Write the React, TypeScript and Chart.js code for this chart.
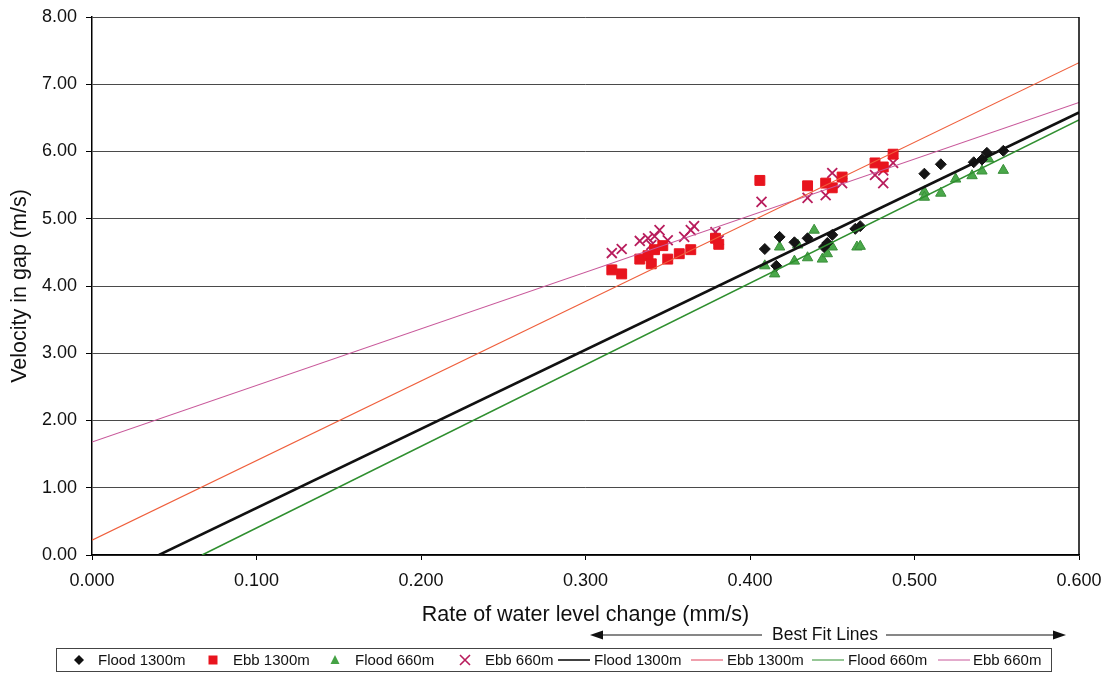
import React, { useEffect, useRef } from 'react';
import Chart from 'chart.js/auto';

// ---- data ----
const flood1300X = [0.409, 0.416, 0.418, 0.427, 0.435, 0.445, 0.447, 0.450, 0.464, 0.467, 0.506, 0.516, 0.536, 0.541, 0.544, 0.554];
const flood1300Y = [4.55, 4.30, 4.73, 4.65, 4.71, 4.58, 4.64, 4.76, 4.85, 4.89, 5.67, 5.81, 5.84, 5.88, 5.98, 6.01];

const ebb1300X = [0.316, 0.322, 0.333, 0.338, 0.340, 0.342, 0.347, 0.350, 0.357, 0.364, 0.379, 0.381, 0.406, 0.435, 0.446, 0.450, 0.456, 0.476, 0.481, 0.487];
const ebb1300Y = [4.24, 4.18, 4.40, 4.45, 4.33, 4.54, 4.60, 4.40, 4.48, 4.54, 4.71, 4.62, 5.57, 5.49, 5.53, 5.46, 5.62, 5.83, 5.77, 5.96];

const flood660X = [0.409, 0.415, 0.418, 0.427, 0.429, 0.435, 0.439, 0.444, 0.447, 0.450, 0.465, 0.467, 0.506, 0.506, 0.516, 0.525, 0.535, 0.541, 0.545, 0.554];
const flood660Y = [4.30, 4.18, 4.58, 4.37, 4.61, 4.42, 4.83, 4.40, 4.48, 4.58, 4.58, 4.59, 5.40, 5.32, 5.38, 5.59, 5.64, 5.71, 5.89, 5.72];

const ebb660X = [0.316, 0.322, 0.333, 0.338, 0.340, 0.342, 0.345, 0.350, 0.360, 0.364, 0.366, 0.379, 0.381, 0.407, 0.435, 0.446, 0.450, 0.456, 0.476, 0.481, 0.481, 0.487];
const ebb660Y = [4.49, 4.55, 4.67, 4.71, 4.61, 4.74, 4.83, 4.68, 4.73, 4.83, 4.89, 4.80, 4.68, 5.25, 5.31, 5.35, 5.68, 5.53, 5.65, 5.72, 5.53, 5.83];

// best fit lines: [x, y] end points
const fitFlood1300 = [[0.0407, 0], [0.6, 6.58]];
const fitEbb1300 = [[0, 0.22], [0.6, 7.32]];
const fitFlood660 = [[0.0669, 0], [0.6, 6.47]];
const fitEbb660 = [[0, 1.68], [0.6, 6.73]];

const xTicks = [0, 0.1, 0.2, 0.3, 0.4, 0.5, 0.6];
const yTicks = [0, 1, 2, 3, 4, 5, 6, 7, 8];

const FONT = "'Liberation Sans', Arial, sans-serif";

const pts = (xs: number[], ys: number[]) => xs.map((x, i) => ({ x, y: ys[i] }));
const linePts = (p: number[][]) => p.map(([x, y]) => ({ x, y }));

// legend layout (styling)
const legendItems = [
  { kind: 'diamond', color: '#111111', label: 'Flood 1300m', mx: 79, tx: 98 },
  { kind: 'square', color: '#e8141e', label: 'Ebb 1300m', mx: 213, tx: 233 },
  { kind: 'triangle', color: '#45a245', label: 'Flood 660m', mx: 335, tx: 355 },
  { kind: 'cross', color: '#b81c5c', label: 'Ebb 660m', mx: 465, tx: 485 },
  { kind: 'line', color: '#111111', label: 'Flood 1300m', mx: 574, tx: 594, lw: 1.6 },
  { kind: 'line', color: '#e0405a', label: 'Ebb 1300m', mx: 707, tx: 727, lw: 1 },
  { kind: 'line', color: '#2f8f2f', label: 'Flood 660m', mx: 828, tx: 848, lw: 1 },
  { kind: 'line', color: '#c8589a', label: 'Ebb 660m', mx: 954, tx: 973, lw: 1 },
];

function drawMarker(ctx: CanvasRenderingContext2D, kind: string, x: number, y: number, color: string, lw = 1) {
  ctx.save();
  ctx.fillStyle = color;
  ctx.strokeStyle = color;
  ctx.beginPath();
  if (kind === 'diamond') {
    ctx.moveTo(x, y - 5); ctx.lineTo(x + 5, y); ctx.lineTo(x, y + 5); ctx.lineTo(x - 5, y); ctx.closePath(); ctx.fill();
  } else if (kind === 'square') {
    ctx.rect(x - 4.5, y - 4.5, 9, 9); ctx.fill();
  } else if (kind === 'triangle') {
    ctx.moveTo(x, y - 5); ctx.lineTo(x + 4.5, y + 4); ctx.lineTo(x - 4.5, y + 4); ctx.closePath(); ctx.fill();
  } else if (kind === 'cross') {
    ctx.lineWidth = 1.6;
    ctx.moveTo(x - 5, y - 5); ctx.lineTo(x + 5, y + 5); ctx.moveTo(x + 5, y - 5); ctx.lineTo(x - 5, y + 5); ctx.stroke();
  } else {
    ctx.lineWidth = lw;
    ctx.moveTo(x - 16, y); ctx.lineTo(x + 16, y); ctx.stroke();
  }
  ctx.restore();
}

const extrasPlugin = {
  id: 'extras',
  afterDraw(chart: any) {
    const ctx: CanvasRenderingContext2D = chart.ctx;
    const { right, top, bottom } = chart.chartArea;
    ctx.save();
    // right border
    ctx.strokeStyle = '#000';
    ctx.lineWidth = 1.5;
    ctx.beginPath();
    ctx.moveTo(right, top);
    ctx.lineTo(right, bottom);
    ctx.stroke();

    // "Best Fit Lines" annotation with arrows
    const ay = 635;
    ctx.font = `17.5px ${FONT}`;
    ctx.fillStyle = '#111';
    ctx.textBaseline = 'middle';
    ctx.textAlign = 'center';
    ctx.fillText('Best Fit Lines', 825, ay);
    ctx.lineWidth = 1.2;
    ctx.strokeStyle = '#111';
    ctx.beginPath();
    ctx.moveTo(594, ay); ctx.lineTo(762, ay);
    ctx.moveTo(886, ay); ctx.lineTo(1062, ay);
    ctx.stroke();
    ctx.beginPath();
    ctx.moveTo(590, ay); ctx.lineTo(603, ay - 4.5); ctx.lineTo(603, ay + 4.5); ctx.closePath();
    ctx.moveTo(1066, ay); ctx.lineTo(1053, ay - 4.5); ctx.lineTo(1053, ay + 4.5); ctx.closePath();
    ctx.fill();

    // legend box
    ctx.lineWidth = 1;
    ctx.strokeStyle = '#444';
    ctx.strokeRect(56.5, 648.5, 995, 23);
    const ly = 660;
    ctx.font = `15px ${FONT}`;
    ctx.textAlign = 'left';
    legendItems.forEach((it) => {
      drawMarker(ctx, it.kind, it.mx, ly, it.color, (it as any).lw);
      ctx.fillStyle = '#111';
      ctx.fillText(it.label, it.tx, ly + 0.5);
    });
    ctx.restore();
  },
};

export default function App() {
  const ref = useRef<HTMLCanvasElement>(null);
  useEffect(() => {
    if (!ref.current) return;
    const chart = new Chart(ref.current, {
      type: 'scatter',
      data: {
        datasets: [
          { label: 'Flood 1300m', data: pts(flood1300X, flood1300Y), pointStyle: 'rectRot', pointRadius: 5.5, backgroundColor: '#151515', borderColor: '#151515', borderWidth: 1, order: 3 },
          { label: 'Ebb 1300m', data: pts(ebb1300X, ebb1300Y), pointStyle: 'rect', pointRadius: 7, backgroundColor: '#e8141e', borderColor: '#e8141e', borderWidth: 1, order: 3 },
          { label: 'Flood 660m', data: pts(flood660X, flood660Y), pointStyle: 'triangle', pointRadius: 6, backgroundColor: '#4aa84a', borderColor: '#3a8f3a', borderWidth: 1, order: 3 },
          { label: 'Ebb 660m', data: pts(ebb660X, ebb660Y), pointStyle: 'crossRot', pointRadius: 7, backgroundColor: '#b81c5c', borderColor: '#b81c5c', borderWidth: 1.8, order: 3 },
          { label: 'Flood 1300m fit', data: linePts(fitFlood1300), showLine: true, pointRadius: 0, borderColor: '#111111', borderWidth: 2.5, order: 1 },
          { label: 'Ebb 1300m fit', data: linePts(fitEbb1300), showLine: true, pointRadius: 0, borderColor: '#ef5f3c', borderWidth: 1.1, order: 1 },
          { label: 'Flood 660m fit', data: linePts(fitFlood660), showLine: true, pointRadius: 0, borderColor: '#2f8f2f', borderWidth: 1.6, order: 1 },
          { label: 'Ebb 660m fit', data: linePts(fitEbb660), showLine: true, pointRadius: 0, borderColor: '#c8589a', borderWidth: 1.1, order: 1 },
        ],
      },
      options: {
        animation: false,
        responsive: false,
        maintainAspectRatio: false,
        layout: { padding: { top: 17, right: 29, left: 0, bottom: 0 } },
        plugins: { legend: { display: false }, tooltip: { enabled: false } },
        scales: {
          x: {
            type: 'linear',
            min: 0,
            max: 0.6,
            afterFit: (s: any) => { s.height = 120; s.paddingLeft = 0; s.paddingRight = 0; },
            afterBuildTicks: (s: any) => { s.ticks = xTicks.map((v) => ({ value: v })); },
            ticks: {
              callback: (v: any) => Number(v).toFixed(3),
              font: { family: FONT, size: 18 },
              color: '#111',
              padding: 10,
              maxRotation: 0,
              autoSkip: false,
            },
            grid: { drawOnChartArea: false, drawTicks: true, tickLength: 5, tickColor: '#000' },
            border: { color: '#000', width: 1.5 },
            title: {
              display: true,
              text: 'Rate of water level change (mm/s)',
              font: { family: FONT, size: 21.5 },
              color: '#111',
              padding: { top: 0, bottom: 47 },
            },
          },
          y: {
            type: 'linear',
            min: 0,
            max: 8,
            afterFit: (s: any) => { s.width = 92; s.paddingTop = 0; s.paddingBottom = 0; },
            afterBuildTicks: (s: any) => { s.ticks = yTicks.map((v) => ({ value: v })); },
            ticks: {
              callback: (v: any) => Number(v).toFixed(2),
              font: { family: FONT, size: 18 },
              color: '#111',
              padding: 9,
            },
            grid: { color: '#4a4a4a', lineWidth: 1, tickLength: 6, tickColor: '#000' },
            border: { color: '#000', width: 1.5 },
            title: {
              display: true,
              text: 'Velocity in gap (m/s)',
              font: { family: FONT, size: 21.5 },
              color: '#111',
              padding: { top: 7, bottom: 0 },
            },
          },
        },
      },
      plugins: [extrasPlugin],
    } as any);
    return () => chart.destroy();
  }, []);
  return (
    <div style={{ position: 'absolute', left: 0, top: 0, width: 1108, height: 675, background: '#fff' }}>
      <canvas ref={ref} width={1108} height={675} style={{ width: 1108, height: 675, display: 'block' }} />
    </div>
  );
}
